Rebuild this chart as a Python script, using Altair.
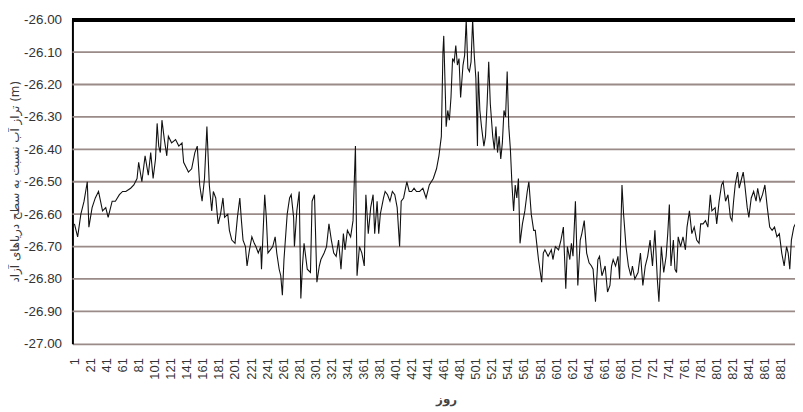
import altair as alt
import pandas as pd

days = [1, 5, 9, 13, 17, 19, 23, 27, 31, 36, 40, 43, 48, 52, 57, 61, 65, 71, 75, 79,
        81, 85, 89, 93, 96, 99, 102, 104, 106, 108, 110, 113, 116, 118, 122, 127, 131, 135, 137, 141,
        143, 147, 151, 154, 157, 160, 163, 166, 169, 172, 174, 177, 180, 183, 186, 188, 192, 194, 197, 201,
        204, 207, 209, 211, 214, 216, 219, 222, 225, 227, 230, 233, 234, 238, 240, 242, 245, 248, 251, 253,
        256, 258, 260, 262, 266, 269, 271, 274, 275, 278, 281, 283, 285, 287, 291, 295, 297, 300, 303, 306,
        308, 312, 315, 318, 321, 324, 327, 330, 333, 336, 338, 341, 345, 348, 351, 353, 356, 359, 362, 364,
        367, 370, 373, 375, 378, 380, 382, 386, 388, 391, 394, 397, 400, 403, 406, 408, 411, 415, 418, 421,
        424, 427, 431, 435, 439, 443, 448, 452, 455, 458, 460, 461, 463, 464, 466, 468, 470, 472, 474, 476,
        478, 480, 482, 485, 487, 489, 491, 493, 495, 497, 499, 501, 503, 504, 506, 508, 511, 513, 515, 517,
        519, 522, 524, 526, 528, 530, 532, 534, 536, 538, 540, 542, 544, 546, 548, 550, 552, 554, 556, 559,
        562, 565, 567, 570, 573, 575, 579, 583, 585, 587, 591, 595, 597, 600, 604, 607, 610, 613, 615, 618,
        620, 622, 625, 628, 631, 633, 636, 639, 642, 645, 647, 650, 653, 655, 658, 662, 665, 668, 670, 672,
        675, 678, 680, 683, 685, 688, 691, 694, 696, 699, 703, 706, 709, 712, 715, 718, 721, 724, 727, 729,
        732, 735, 738, 740, 742, 744, 747, 749, 751, 753, 756, 759, 762, 764, 767, 770, 773, 776, 779, 781,
        784, 787, 790, 793, 795, 799, 801, 804, 807, 809, 812, 815, 818, 820, 822, 824, 827, 829, 832, 834,
        836, 839, 841, 844, 847, 850, 852, 855, 858, 861, 864, 867, 870, 873, 876, 879, 882, 885, 888, 890,
        892, 894, 897, 899]

levels = [-26.63, -26.67, -26.60, -26.56, -26.50, -26.64, -26.58, -26.55, -26.53, -26.59, -26.58, -26.61, -26.56, -26.56, -26.54, -26.53, -26.53, -26.52, -26.51, -26.49,
          -26.44, -26.50, -26.42, -26.48, -26.41, -26.49, -26.43, -26.32, -26.39, -26.41, -26.31, -26.37, -26.42, -26.36, -26.38, -26.37, -26.39, -26.38, -26.44, -26.46,
          -26.47, -26.46, -26.41, -26.39, -26.51, -26.56, -26.49, -26.33, -26.51, -26.59, -26.53, -26.55, -26.63, -26.60, -26.55, -26.61, -26.60, -26.65, -26.68, -26.69,
          -26.61, -26.55, -26.62, -26.68, -26.70, -26.76, -26.71, -26.67, -26.69, -26.70, -26.72, -26.70, -26.77, -26.54, -26.61, -26.72, -26.71, -26.70, -26.67, -26.72,
          -26.77, -26.79, -26.85, -26.74, -26.60, -26.55, -26.54, -26.61, -26.70, -26.59, -26.53, -26.86, -26.76, -26.69, -26.77, -26.78, -26.56, -26.54, -26.81, -26.76,
          -26.74, -26.72, -26.70, -26.63, -26.68, -26.72, -26.73, -26.68, -26.77, -26.66, -26.71, -26.65, -26.67, -26.62, -26.39, -26.79, -26.70, -26.72, -26.76, -26.54,
          -26.66, -26.58, -26.54, -26.66, -26.56, -26.66, -26.60, -26.55, -26.53, -26.54, -26.56, -26.53, -26.54, -26.58, -26.70, -26.56, -26.55, -26.50, -26.53, -26.53,
          -26.52, -26.53, -26.53, -26.52, -26.55, -26.51, -26.49, -26.46, -26.42, -26.36, -26.10, -26.05, -26.23, -26.33, -26.28, -26.31, -26.24, -26.12, -26.13, -26.08,
          -26.14, -26.12, -26.24, -26.14, -26.11, -26.00, -26.15, -26.16, -26.13, -26.00, -26.11, -26.18, -26.39, -26.16, -26.28, -26.33, -26.39, -26.36, -26.26, -26.13,
          -26.26, -26.36, -26.40, -26.33, -26.41, -26.36, -26.43, -26.38, -26.28, -26.30, -26.16, -26.33, -26.40, -26.51, -26.59, -26.51, -26.55, -26.49, -26.69, -26.63,
          -26.59, -26.53, -26.50, -26.60, -26.65, -26.65, -26.74, -26.81, -26.72, -26.71, -26.73, -26.71, -26.74, -26.70, -26.71, -26.68, -26.64, -26.83, -26.70, -26.74,
          -26.69, -26.73, -26.56, -26.82, -26.68, -26.66, -26.62, -26.72, -26.75, -26.76, -26.77, -26.87, -26.74, -26.73, -26.79, -26.76, -26.84, -26.82, -26.76, -26.74,
          -26.76, -26.73, -26.80, -26.51, -26.60, -26.70, -26.76, -26.79, -26.76, -26.80, -26.78, -26.72, -26.82, -26.76, -26.73, -26.68, -26.76, -26.65, -26.80, -26.87,
          -26.70, -26.78, -26.73, -26.66, -26.57, -26.76, -26.68, -26.77, -26.78, -26.67, -26.70, -26.67, -26.71, -26.64, -26.59, -26.66, -26.64, -26.68, -26.69, -26.63,
          -26.63, -26.62, -26.64, -26.54, -26.59, -26.58, -26.63, -26.56, -26.51, -26.50, -26.56, -26.54, -26.61, -26.62, -26.56, -26.51, -26.47, -26.52, -26.49, -26.47,
          -26.51, -26.58, -26.61, -26.55, -26.53, -26.56, -26.52, -26.56, -26.54, -26.51, -26.58, -26.64, -26.65, -26.64, -26.67, -26.66, -26.72, -26.76, -26.70, -26.72,
          -26.77, -26.68, -26.64, -26.63]

y_ticks = [-27.0, -26.9, -26.8, -26.7, -26.6, -26.5, -26.4, -26.3, -26.2, -26.1, -26.0]
x_ticks = list(range(1, 900, 20))

y_title = "تراز آب نسبت به سطح دریاهای آزاد (m)"
x_title = "روز"

df = pd.DataFrame({"day": days, "level": levels})
grid_df = pd.DataFrame({"level": y_ticks[1:-1]})

FONT = "Liberation Sans"
MINUS = "\u2212"

x_scale = alt.Scale(domain=[-1.5, 898.5], nice=False, zero=False)
y_scale = alt.Scale(domain=[-27.0, -26.0], nice=False, zero=False)

x_enc = alt.X(
    "day:Q",
    scale=x_scale,
    axis=alt.Axis(
        values=x_ticks, labelAngle=-90, labelFont=FONT, labelFontSize=13,
        labelColor="#333333", labelPadding=14, ticks=False, grid=False,
        domainColor="#9a8a88", domainWidth=1.8, labelOverlap=False,
        title=x_title, titleFont="DejaVu Sans", titleFontSize=12, titleFontWeight="bold",
        titleColor="#444444", titleX=377, titleY=55, titleBaseline="middle",
    ),
)

y_enc = alt.Y(
    "level:Q",
    scale=y_scale,
    axis=alt.Axis(
        values=y_ticks, tickCount=11,
        labelExpr="replace(format(datum.value, '.2f'), '" + MINUS + "', '-')",
        labelFont=FONT, labelFontSize=13.5, labelColor="#333333", labelPadding=11,
        labelOverlap=False, labelBound=False, labelFlush=False,
        ticks=False, grid=False,
        domainColor="#000000", domainWidth=2,
        title=y_title, titleFont="DejaVu Sans", titleFontSize=12, titleFontWeight="normal",
        titleColor="#3a3a3a", titleX=-58, titleY=163, titleAngle=-90, titleBaseline="middle",
    ),
)

grid = alt.Chart(grid_df).mark_rule(color="#9a8a88", strokeWidth=1.8).encode(
    y=alt.Y("level:Q", scale=y_scale)
)

line = alt.Chart(df).mark_line(color="#111111", strokeWidth=1.1, clip=True).encode(x=x_enc, y=y_enc)

top = alt.Chart(df).mark_rule(color="#000000", strokeWidth=3).encode(
    y=alt.datum(-26.0), x=alt.value(0), x2=alt.value(729)
)

chart = (
    alt.layer(grid, line, top)
    .properties(
        width=729, height=327,
        autosize=alt.AutoSizeParams(type="none"),
        padding={"left": 65, "top": 10, "right": 0, "bottom": 66},
        background="white",
    )
    .configure_view(stroke=None)
)

chart.save("out.html", embed_options={"renderer": "svg", "actions": False})
